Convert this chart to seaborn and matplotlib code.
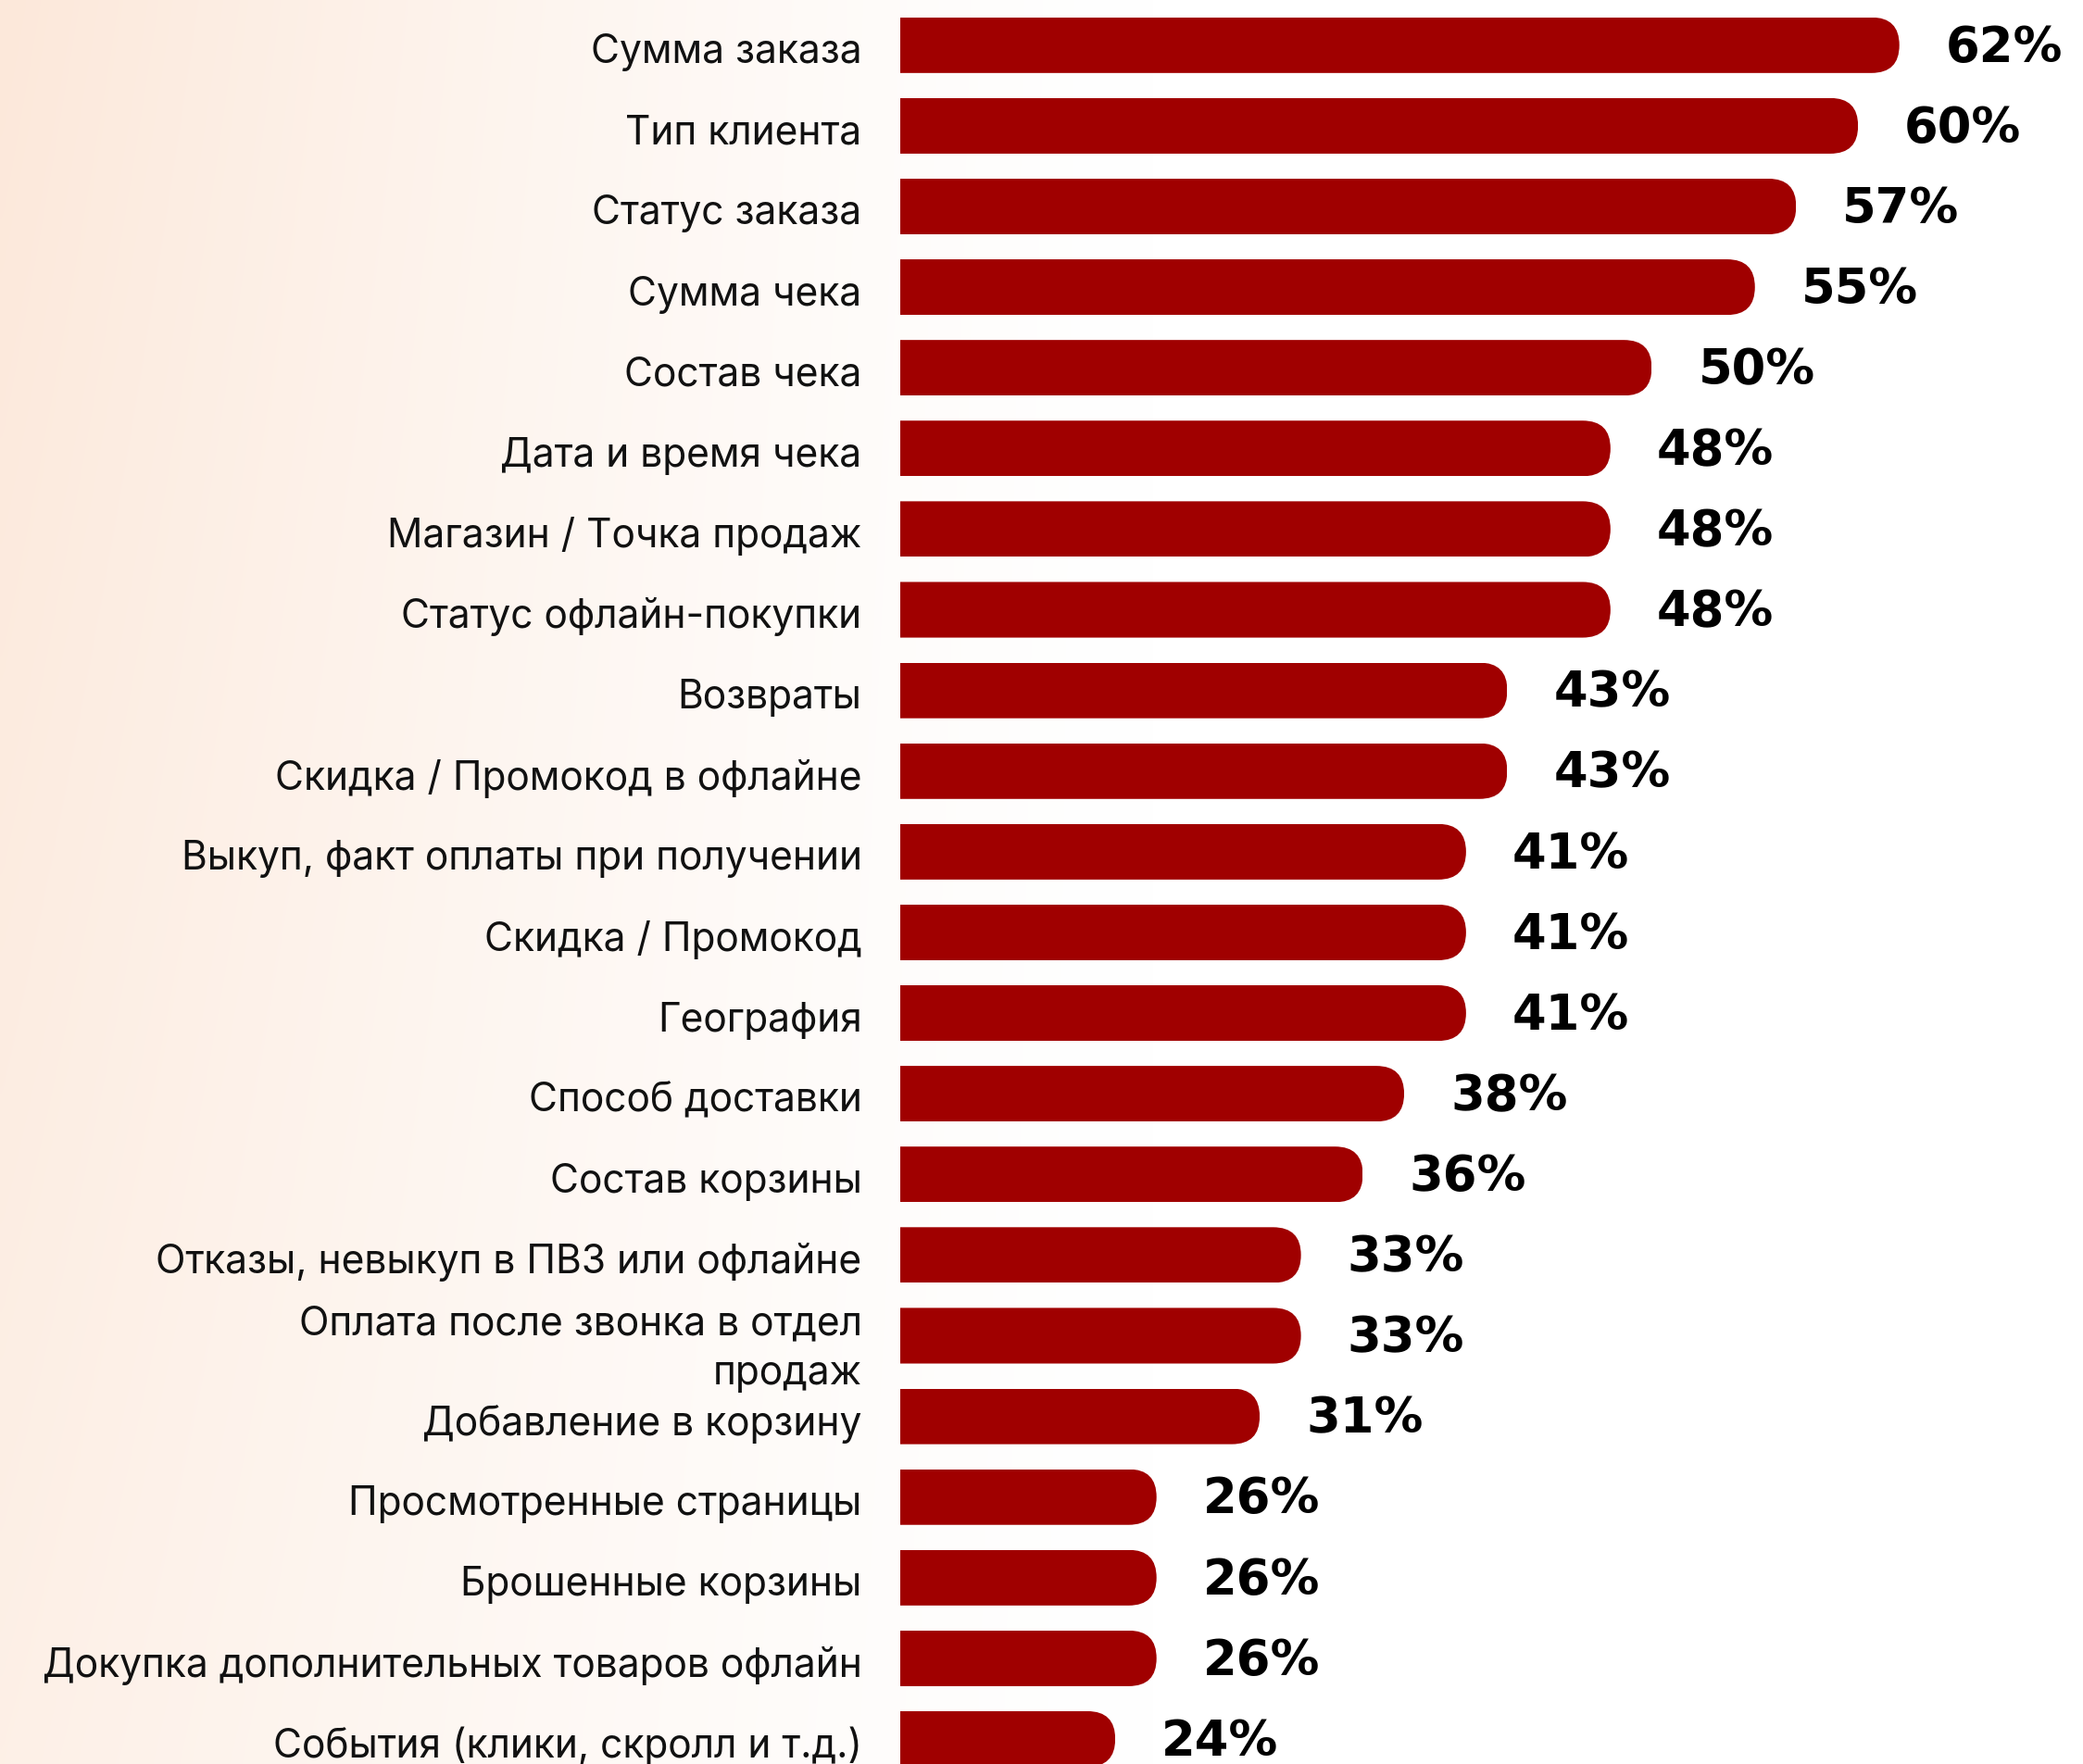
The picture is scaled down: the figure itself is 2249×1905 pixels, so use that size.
import numpy as np
import pandas as pd
import matplotlib
matplotlib.use("Agg")
import matplotlib.pyplot as plt
import matplotlib.transforms as mtransforms
from matplotlib.patches import FancyBboxPatch
import seaborn as sns

# Share of companies that collect each kind of order data
categories = [
    "Сумма заказа",
    "Тип клиента",
    "Статус заказа",
    "Сумма чека",
    "Состав чека",
    "Дата и время чека",
    "Магазин / Точка продаж",
    "Статус офлайн-покупки",
    "Возвраты",
    "Скидка / Промокод в офлайне",
    "Выкуп, факт оплаты при получении",
    "Скидка / Промокод",
    "География",
    "Способ доставки",
    "Состав корзины",
    "Отказы, невыкуп в ПВЗ или офлайне",
    "Оплата после звонка в отдел\nпродаж",
    "Добавление в корзину",
    "Просмотренные страницы",
    "Брошенные корзины",
    "Докупка дополнительных товаров офлайн",
    "События (клики, скролл и т.д.)",
]
values = [62, 60, 57, 55, 50, 48, 48, 48, 43, 43, 41, 41, 41, 38, 36, 33, 33, 31, 26, 26, 26, 24]

BAR_COLOR = "#A00000"

sns.set_theme(style="white")
plt.rcParams["font.family"] = ["Inter", "DejaVu Sans"]

W, H, DPI = 2249, 1905, 100
fig = plt.figure(figsize=(W / DPI, H / DPI), dpi=DPI)
fig.patch.set_facecolor("white")

# Soft peach wash on the left side of the canvas
bg = fig.add_axes([0, 0, 1, 1], zorder=-10)
xs = np.linspace(0, 1, 400)
ys = np.linspace(0, 1, 340)
X, Y = np.meshgrid(xs, ys)
w = np.clip(1 - X / 0.55, 0, 1) ** 1.3 * (1 - 0.35 * Y)
peach = np.array([252, 232, 218]) / 255.0
img = 1 - w[..., None] * (1 - peach)
bg.imshow(img, extent=(0, 1, 1, 0), aspect="auto", interpolation="bicubic")
bg.set_axis_off()

ax = fig.add_axes([0.432, 0.0, 0.568, 1.0])
ax.set_facecolor("none")

df = pd.DataFrame({"category": categories, "value": values})
sns.barplot(data=df, x="value", y="category", orient="h", color=BAR_COLOR,
            width=0.69, saturation=1, ax=ax, edgecolor="none")

x_lo, x_hi = 13.56, 70.9
ax.set_xlim(x_lo, x_hi)
ax.set_ylim(21.31, -0.56)

for s in ax.spines.values():
    s.set_visible(False)
ax.set_xticks([])
ax.set_xlabel("")
ax.set_ylabel("")
ax.tick_params(axis="y", length=0, pad=29.5)
shift_down = mtransforms.ScaledTranslation(0, -2.5 / 72, fig.dpi_scale_trans)
for lbl in ax.get_yticklabels():
    lbl.set_fontsize(30.6)
    lbl.set_color("#111111")
    lbl.set_linespacing(1.4)
    lbl.set_transform(lbl.get_transform() + shift_down)

# Pill-shaped right ends: clip each bar with a rounded box
fig.canvas.draw()
p0 = ax.transData.transform((0, 0))
px_x = abs(ax.transData.transform((1, 0))[0] - p0[0])
px_y = abs(ax.transData.transform((0, 1))[1] - p0[1])
for bar in ax.patches:
    y0 = bar.get_y()
    h = bar.get_height()
    v = bar.get_width()
    r_px = 0.5 * h * px_y
    r_x = r_px / px_x
    start = x_lo - 10
    clip = FancyBboxPatch((start, y0), v - start, h,
                          boxstyle=f"round,pad=0,rounding_size={r_x}",
                          mutation_aspect=px_x / px_y,
                          transform=ax.transData)
    bar.set_clip_path(clip)

# Value labels to the right of each bar
for i, v in enumerate(values):
    ax.annotate(f"{v}%", xy=(v, i), xytext=(36, -2), textcoords="offset points",
                ha="left", va="center", fontsize=38, fontweight="bold",
                family="DejaVu Sans", color="black", annotation_clip=False)

fig.savefig("out.png", dpi=DPI)
